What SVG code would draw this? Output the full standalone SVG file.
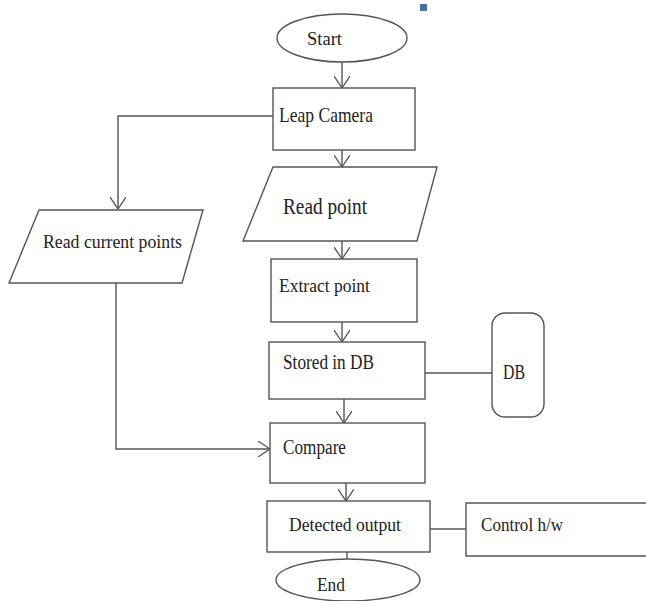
<svg xmlns="http://www.w3.org/2000/svg" width="646" height="601" viewBox="0 0 646 601">
<style>
.s{fill:#fff;stroke:#555;stroke-width:1.4}
.c{fill:none;stroke:#555;stroke-width:1.4}
.t{font-family:"Liberation Serif","Times New Roman",serif;fill:#222}
</style>
<defs>
<marker id="a" viewBox="0 0 12 16" refX="12" refY="8" markerWidth="12" markerHeight="16" markerUnits="userSpaceOnUse" orient="auto">
<path d="M0,0 L12,8 L0,16" fill="none" stroke="#555" stroke-width="1.3"/>
</marker>
</defs>
<rect x="420" y="4" width="7" height="7" fill="#4a6fa5"/>
<g id="connectors">
<line class="c" x1="342" y1="62" x2="342" y2="88" marker-end="url(#a)"/>
<line class="c" x1="342" y1="150" x2="342" y2="167" marker-end="url(#a)"/>
<line class="c" x1="342" y1="241" x2="342" y2="259" marker-end="url(#a)"/>
<line class="c" x1="342" y1="322" x2="342" y2="342" marker-end="url(#a)"/>
<line class="c" x1="344" y1="399" x2="344" y2="423" marker-end="url(#a)"/>
<line class="c" x1="346" y1="483" x2="346" y2="501" marker-end="url(#a)"/>
<line class="c" x1="347" y1="552" x2="347" y2="559"/>
<polyline class="c" points="273,116 118,116 118,209" marker-end="url(#a)"/>
<polyline class="c" points="116,283 116,449 270,449" marker-end="url(#a)"/>
<line class="c" x1="425" y1="373" x2="492" y2="373"/>
<line class="c" x1="430" y1="529" x2="466" y2="529"/>
</g>
<g id="start">
<ellipse class="s" cx="342" cy="38" rx="65" ry="24"/>
<text class="t" x="307" y="45" font-size="19" textLength="35" lengthAdjust="spacingAndGlyphs">Start</text>
</g>
<g id="leap-camera">
<rect class="s" x="273" y="88" width="142" height="62"/>
<text class="t" x="279" y="122" font-size="21" textLength="94" lengthAdjust="spacingAndGlyphs">Leap Camera</text>
</g>
<g id="read-current-points">
<polygon class="s" points="39,210 203,210 182,283 9,283"/>
<text class="t" x="43" y="248" font-size="19" textLength="139" lengthAdjust="spacingAndGlyphs">Read current points</text>
</g>
<g id="read-point">
<polygon class="s" points="273,167 437,167 417,241 243,241"/>
<text class="t" x="283" y="214" font-size="23" textLength="84" lengthAdjust="spacingAndGlyphs">Read point</text>
</g>
<g id="extract-point">
<rect class="s" x="271" y="259" width="146" height="63"/>
<text class="t" x="279" y="292" font-size="19" textLength="91" lengthAdjust="spacingAndGlyphs">Extract point</text>
</g>
<g id="stored-in-db">
<rect class="s" x="269" y="342" width="156" height="57"/>
<text class="t" x="283" y="369" font-size="20" textLength="91" lengthAdjust="spacingAndGlyphs">Stored in DB</text>
</g>
<g id="db">
<rect class="s" x="492" y="313" width="52" height="104" rx="13" ry="13"/>
<text class="t" x="503" y="379" font-size="20" textLength="22" lengthAdjust="spacingAndGlyphs">DB</text>
</g>
<g id="compare">
<rect class="s" x="270" y="423" width="155" height="60"/>
<text class="t" x="283" y="454" font-size="20" textLength="63" lengthAdjust="spacingAndGlyphs">Compare</text>
</g>
<g id="detected-output">
<rect class="s" x="267" y="501" width="163" height="51"/>
<text class="t" x="289" y="531" font-size="19" textLength="112" lengthAdjust="spacingAndGlyphs">Detected output</text>
</g>
<g id="control-hw">
<path class="c" d="M650,503 L466,503 L466,556 L650,556"/>
<text class="t" x="481" y="531" font-size="19" textLength="82" lengthAdjust="spacingAndGlyphs">Control h/w</text>
</g>
<g id="end">
<ellipse class="s" cx="348" cy="580" rx="72" ry="21"/>
<text class="t" x="317" y="591" font-size="19" textLength="28" lengthAdjust="spacingAndGlyphs">End</text>
</g>
</svg>
